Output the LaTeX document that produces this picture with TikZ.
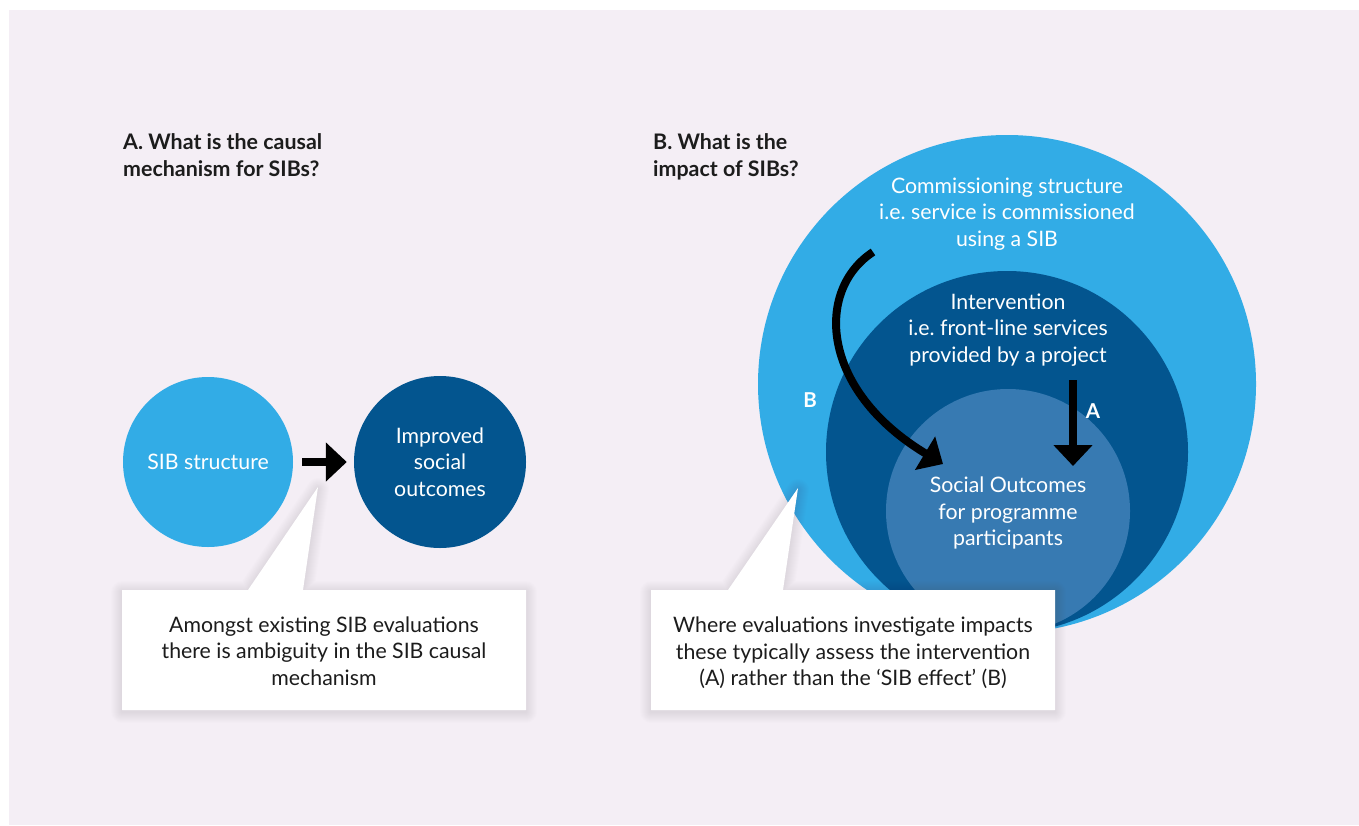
\documentclass[tikz,border=0pt]{standalone}
\usepackage{fontspec}
\setmainfont{Lato}
\usetikzlibrary{arrows.meta}
\frenchspacing

\definecolor{bgpink}{HTML}{F4EEF5}
\definecolor{sibblue}{HTML}{32ACE6}
\definecolor{navy}{HTML}{03558F}
\definecolor{midblue}{HTML}{377AB2}
\definecolor{inkgrey}{HTML}{1C1C1C}

\begin{document}
\begin{tikzpicture}[x=1pt,y=-1pt,
  bodytext/.style={font=\fontsize{21.3}{26.5}\selectfont, align=center, inner sep=0pt},
  headtext/.style={font=\bfseries\fontsize{21.4}{27}\selectfont, align=left,
                   inner sep=0pt, anchor=north west, text=inkgrey},
  disc/.style={circle, inner sep=0pt, text=white, font=\fontsize{21.3}{26.5}\selectfont, align=center},
  fatarrow/.style={line width=8pt, -{Triangle[length=21pt,width=38pt]}},
  letter/.style={font=\bfseries\fontsize{20.5}{24}\selectfont, text=white, inner sep=0pt},
  % outlines of the two speech boxes (box plus pointer)
  boxA/.style={insert path={(122,590) -- (248,590) -- (318,487) -- (303,590) -- (526,590)
                 -- (526,710) -- (122,710) -- cycle}},
  boxB/.style={insert path={(651,590) -- (728,590) -- (798,488) -- (783,590) -- (1055,590)
                 -- (1055,710) -- (651,710) -- cycle}},
  haze/.style={draw=black!70!purple, draw opacity=0.009, line join=round},
]
\useasboundingbox (0,0) rectangle (1359,825);
% page background
\fill[bgpink] (9,10) rectangle (1359,825);

% ---------- Panel A ----------
\node[headtext] (headA) at (123,133) {A. What is the causal\\mechanism for SIBs?};

\node[disc, fill=sibblue, minimum size=170pt] (sib) at (208,462) {SIB structure};
\node[disc, fill=navy, minimum size=172pt] (imp) at (440,462) {Improved\\social\\outcomes};
\draw[fatarrow, shorten <=9pt, shorten >=7pt] (sib) -- (imp);

% soft shadow under the speech box, then the box itself
\begin{scope}[yshift=-2pt]
  \foreach \w in {2,4,...,22} { \path[haze, line width=\w pt, boxA]; }
\end{scope}
\fill[white, boxA];
\node[bodytext, text=inkgrey] (noteA) at (324,651)
  {Amongst existing SIB evaluations\\there is ambiguity in the SIB causal\\mechanism};

% ---------- Panel B ----------
\node[headtext] (headB) at (653,133) {B. What is the\\impact of SIBs?};

\node[circle, fill=sibblue, minimum size=498pt, inner sep=0pt] (outer) at (1007,384) {};
\node[circle, fill=navy, minimum size=362pt, inner sep=0pt] (middle) at (1007,452) {};
\node[circle, fill=midblue, minimum size=244pt, inner sep=0pt] (inner) at (1008,511) {};

\node[bodytext, text=white] (commTxt) at (1007,214)
  {Commissioning structure\\i.e. service is commissioned\\using a SIB};
\node[bodytext, text=white] (intTxt) at (1008,330)
  {Intervention\\i.e. front-line services\\provided by a project};
\node[bodytext, text=white] (outTxt) at (1008,513)
  {Social Outcomes\\for programme\\participants};

% arrow A: intervention -> outcomes
\coordinate (aTop) at (1073,380);
\coordinate (aTip) at (1073,466);
\draw[fatarrow] (aTop) -- (aTip);
\node[letter] (labA) at (1093,411) {A};

% arrow B: commissioning structure -> outcomes
\coordinate (bStart) at (873,252);
\coordinate (bTip) at (943,464);
\draw[fatarrow] (bStart) .. controls (815,290) and (820,390) .. (bTip);
\node[letter] (labB) at (810,400) {B};

\begin{scope}[yshift=-2pt]
  \foreach \w in {2,4,...,22} { \path[haze, line width=\w pt, boxB]; }
\end{scope}
\fill[white, boxB];
\node[bodytext, text=inkgrey] (noteB) at (853,653)
  {Where evaluations investigate impacts\\these typically assess the intervention\\(A) rather than the ‘SIB effect’ (B)};
\end{tikzpicture}
\end{document}
